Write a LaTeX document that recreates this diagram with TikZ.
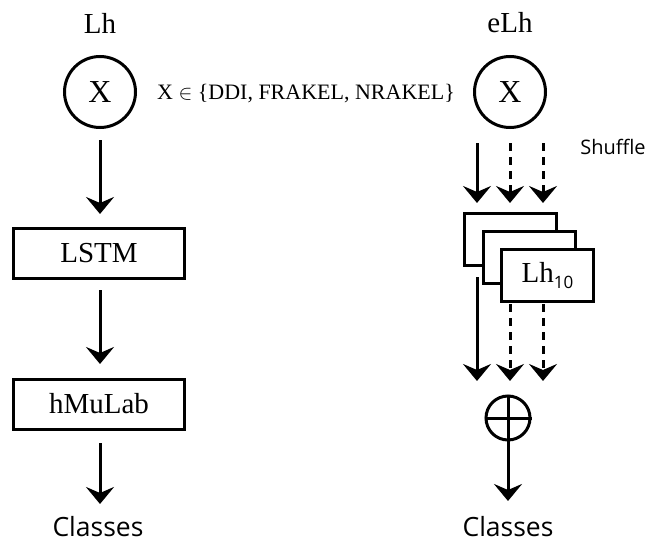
\documentclass[tikz,border=0pt]{standalone}
\usepackage{fontspec}
\setmainfont{Liberation Serif}
\newfontfamily\sansf{Open Sans}
\usetikzlibrary{arrows.meta}
\newcommand\lhsub[1]{Lh\raisebox{-6pt}{\sansf\fontsize{17}{17}\selectfont #1}}
\begin{document}
\begin{tikzpicture}[x=1pt,y=-1pt,
  line width=3pt,
  arr/.style={-{Stealth[length=17pt,width=28pt,inset=6pt]}},
  dsh/.style={dash pattern=on 8pt off 6pt},
  circ/.style={draw,circle,minimum size=71pt,inner sep=0pt,font=\fontsize{32}{32}\selectfont},
  box/.style={draw,rectangle,minimum width=171pt,minimum height=50pt,inner sep=0pt,font=\fontsize{29}{29}\selectfont},
  sbox/.style={draw,fill=white,rectangle,minimum width=92pt,minimum height=52pt,inner sep=0pt,font=\fontsize{29}{29}\selectfont},
  lab/.style={font=\fontsize{29}{29}\selectfont},
  cls/.style={font=\sansf\fontsize{26.5}{26.5}\selectfont}
]
\useasboundingbox (0,0) rectangle (648,543);
% left column
\node[lab] (lh) at (100,23) {Lh};
\node[circ] (x1) at (100,92) {X};
\node[box] (lstm) at (99,253) {LSTM};
\node[box] (hmu) at (99,404) {hMuLab};
\node[cls] (cl1) at (98,527) {Classes};
\coordinate (a1s) at (100,140);
\coordinate (a1e) at (100,214);
\coordinate (a2s) at (100,290);
\coordinate (a2e) at (100,364);
\coordinate (a3s) at (100,443);
\coordinate (a3e) at (100,504);
\draw[arr] (a1s) -- (a1e);
\draw[arr] (a2s) -- (a2e);
\draw[arr] (a3s) -- (a3e);
% middle text
\node[font=\fontsize{22}{22}\selectfont] (set) at (306,94) {X $\in$ \{DDI, FRAKEL, NRAKEL\}};
% right column
\node[lab] (elh) at (510,23) {eLh};
\node[circ] (x2) at (510,92) {X};
\node[font=\sansf\fontsize{20}{20}\selectfont] (shuf) at (613,147) {Shuffle};
\coordinate (r1s) at (477,143);
\coordinate (r1e) at (477,203);
\coordinate (r2s) at (510,143);
\coordinate (r2e) at (510,203);
\coordinate (r3s) at (543,143);
\coordinate (r3e) at (543,203);
\draw[arr] (r1s) -- (r1e);
\draw[arr,dsh] (r2s) -- (r2e);
\draw[arr,dsh] (r3s) -- (r3e);
\node[sbox] (b1) at (510.5,239.5) {};
\node[sbox] (b2) at (529.5,257.5) {};
\node[sbox] (b3) at (547.5,275.5) {\lhsub{10}};
\coordinate (m1s) at (477,277);
\coordinate (m1e) at (477,381);
\coordinate (m2s) at (510,304);
\coordinate (m2e) at (510,381);
\coordinate (m3s) at (543,304);
\coordinate (m3e) at (543,381);
\draw[arr] (m1s) -- (m1e);
\draw[arr,dsh] (m2s) -- (m2e);
\draw[arr,dsh] (m3s) -- (m3e);
\node[draw,circle,minimum size=44pt,inner sep=0pt] (op) at (508,418) {};
\draw (op.north) -- (op.south);
\draw (op.west) -- (op.east);
\coordinate (oe) at (508,501);
\draw[arr] (op.south) -- (oe);
\node[cls] (cl2) at (508,527) {Classes};
\end{tikzpicture}
\end{document}
